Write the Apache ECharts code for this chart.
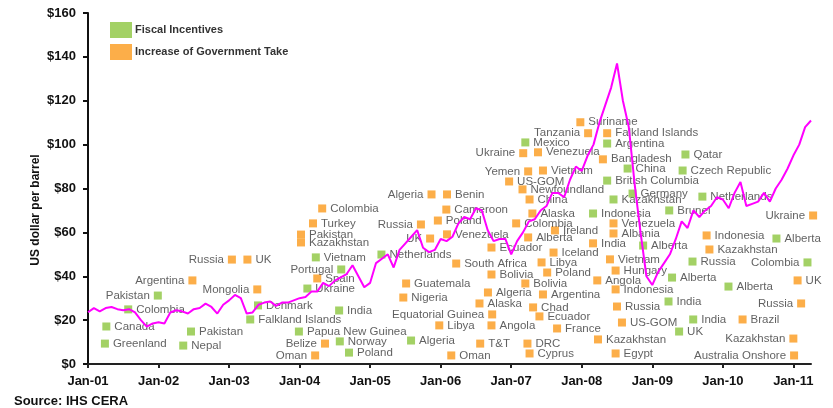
<!DOCTYPE html>
<html>
<head>
<meta charset="UTF-8">
<title>Oil price and fiscal changes</title>
<script src="https://cdn.jsdelivr.net/npm/echarts@6/dist/echarts.min.js"></script>
<style>
  html, body { margin: 0; padding: 0; background: #fff; }
  #main { width: 833px; height: 408px; }
</style>
</head>
<body>
<div id="main"></div>
<script type="text/javascript">
// oil price, US$/bbl, monthly from Jan-01
var priceStartYear = 2001;
var prices = [
  23.6, 25.5, 24, 25.5, 26, 25, 24.5, 25, 23.5, 20, 17, 18.5,
  19, 18.5, 23.5, 24.5, 24, 23, 25, 25.5, 27.5, 26, 23, 27,
  29, 31.5, 30, 23, 23.5, 27, 28, 28.5, 26.5, 28, 28, 29,
  30, 30.5, 33, 33, 37, 35.5, 38, 39.5, 41, 45, 40, 35,
  37, 46, 48, 50, 44, 52, 55, 58, 61, 53, 51, 52,
  57, 56, 58, 64, 67, 66, 71, 70, 61, 56, 57, 57,
  50, 56, 60, 65, 66, 70, 72, 78, 78, 76, 84, 90,
  88, 95, 100, 110, 118, 126, 137, 120, 108, 82, 60, 40,
  36, 42, 46, 50, 57, 65, 62, 70, 67, 70, 72, 76,
  75, 71, 78, 83, 72, 73, 74, 78, 74, 80, 84, 89,
  95, 100, 108, 111
];

// [date (decimal year), US$/bbl, country]
var fiscalIncentives = [
  [2001.26, 17.1, 'Canada'], [2001.24, 9.3, 'Greenland'], [2001.99, 31.2, 'Pakistan'],
  [2001.57, 24.9, 'Colombia'], [2002.46, 14.8, 'Pakistan'], [2002.35, 8.4, 'Nepal'],
  [2003.41, 26.7, 'Denmark'], [2003.30, 20.3, 'Falkland Islands'], [2003.99, 14.8, 'Papua New Guinea'],
  [2004.57, 10.3, 'Norway'], [2004.70, 5.2, 'Poland'], [2004.56, 24.4, 'India'],
  [2004.11, 34.4, 'Ukraine'], [2004.59, 43.1, 'Portugal'], [2004.23, 48.6, 'Vietnam'],
  [2005.16, 49.9, 'Netherlands'], [2005.58, 10.7, 'Algeria'], [2007.20, 101, 'Mexico'],
  [2008.16, 68.6, 'Indonesia'], [2008.36, 100.5, 'Argentina'], [2008.36, 83.6, 'British Columbia'],
  [2008.45, 75.0, 'Kazakhstan'], [2008.65, 89.1, 'China'], [2008.72, 77.7, 'Germany'],
  [2008.87, 54.0, 'Alberta'], [2009.24, 70.0, 'Brunei'], [2009.28, 39.4, 'Alberta'],
  [2009.23, 28.5, 'India'], [2009.38, 14.8, 'UK'], [2009.58, 20.3, 'India'],
  [2009.47, 95.5, 'Qatar'], [2009.43, 88.2, 'Czech Republic'], [2009.71, 76.3, 'Netherlands'],
  [2009.57, 46.7, 'Russia'], [2010.08, 35.3, 'Alberta'], [2010.76, 57.2, 'Alberta'],
  [2011.20, 46.3, 'Colombia']
];

var governmentTake = [
  [2002.48, 38.1, 'Argentina'], [2003.40, 34.0, 'Mongolia'], [2003.04, 47.6, 'Russia'],
  [2003.26, 47.6, 'UK'], [2004.22, 3.9, 'Oman'], [2004.36, 9.3, 'Belize'],
  [2004.25, 39.0, 'Spain'], [2004.02, 59.0, 'Pakistan'], [2004.02, 55.4, 'Kazakhstan'],
  [2004.19, 64.1, 'Turkey'], [2004.32, 70.9, 'Colombia'], [2005.72, 63.6, 'Russia'],
  [2005.85, 57.2, 'UK'], [2005.87, 77.3, 'Algeria'], [2006.09, 77.3, 'Benin'],
  [2006.08, 70.4, 'Cameroon'], [2005.96, 65.4, 'Poland'], [2006.09, 59.1, 'Venezuela'],
  [2005.51, 36.7, 'Guatemala'], [2005.47, 30.3, 'Nigeria'], [2005.98, 17.6, 'Libya'],
  [2006.15, 3.9, 'Oman'], [2006.56, 9.3, 'T&T'], [2006.55, 27.6, 'Alaska'],
  [2006.67, 32.6, 'Algeria'], [2006.72, 40.8, 'Bolivia'], [2006.72, 17.6, 'Angola'],
  [2006.73, 22.6, 'Equatorial Guinea'], [2006.22, 45.8, 'South Africa'], [2006.72, 53.1, 'Ecuador'],
  [2007.07, 64.1, 'Colombia'], [2007.30, 68.6, 'Alaska'], [2007.24, 57.7, 'Alberta'],
  [2007.62, 60.9, 'Ireland'], [2007.60, 50.8, 'Iceland'], [2007.43, 46.3, 'Libya'],
  [2007.51, 41.7, 'Poland'], [2007.20, 36.7, 'Bolivia'], [2007.45, 31.7, 'Argentina'],
  [2007.31, 25.8, 'Chad'], [2007.40, 21.7, 'Ecuador'], [2007.65, 16.2, 'France'],
  [2007.23, 9.3, 'DRC'], [2007.26, 4.8, 'Cyprus'], [2008.23, 11.2, 'Kazakhstan'],
  [2008.48, 4.8, 'Egypt'], [2008.57, 18.9, 'US-GOM'], [2008.50, 26.2, 'Russia'],
  [2008.48, 34.0, 'Indonesia'], [2008.22, 38.1, 'Angola'], [2008.48, 42.6, 'Hungary'],
  [2008.40, 47.7, 'Vietnam'], [2008.16, 55.0, 'India'], [2008.45, 59.5, 'Albania'],
  [2008.45, 64.1, 'Venezuela'], [2008.30, 93.3, 'Bangladesh'], [2008.36, 105.2, 'Falkland Islands'],
  [2008.09, 105.2, 'Tanzania'], [2007.98, 110.2, 'Suriname'], [2007.38, 96.5, 'Venezuela'],
  [2007.17, 96.1, 'Ukraine'], [2007.24, 87.8, 'Yemen'], [2007.45, 88.2, 'Vietnam'],
  [2006.97, 83.2, 'US-GOM'], [2007.16, 79.6, 'Newfoundland'], [2007.26, 75.0, 'China'],
  [2009.81, 52.2, 'Kazakhstan'], [2009.77, 58.6, 'Indonesia'], [2010.28, 20.3, 'Brazil'],
  [2011.06, 38.1, 'UK'], [2011.11, 27.6, 'Russia'], [2011.00, 11.6, 'Kazakhstan'],
  [2011.01, 3.9, 'Australia Onshore'], [2011.28, 67.7, 'Ukraine']
];

var yearTicks = [2001, 2002, 2003, 2004, 2005, 2006, 2007, 2008, 2009, 2010, 2011];

// which markers carry their label on the left side (indexes into the arrays above)
var fiscalLeft = [2, 13, 36];
var takeLeft = [0, 1, 2, 4, 5, 11, 12, 13, 27, 57, 60, 61, 70, 71, 72, 73];

var GREEN = '#8cc63f', ORANGE = '#fb9a1c';
var FONT = 'Liberation Sans, Arial, sans-serif';

function toPoints(list, leftIdx) {
  return list.map(function (p, i) {
    return {
      name: p[2],
      value: [p[0], p[1]],
      label: { position: leftIdx.indexOf(i) >= 0 ? 'left' : 'right' }
    };
  });
}

var priceData = prices.map(function (v, i) {
  return [priceStartYear + i / 12, v];
});

var labelStyle = {
  show: true,
  formatter: '{b}',
  distance: 4,
  color: '#3a3a3a',
  fontFamily: FONT,
  fontSize: 11.5
};

var myChart = echarts.init(document.getElementById('main'), null, { renderer: 'canvas' });

var option = {
  animation: false,
  backgroundColor: '#fff',
  grid: { left: 88, right: 22, top: 13, bottom: 44 },
  legend: {
    data: ['Fiscal Incentives', 'Increase of Government Take'],
    orient: 'vertical',
    left: 105,
    top: 17,
    itemWidth: 22,
    itemHeight: 16,
    itemGap: 6,
    icon: 'rect',
    textStyle: { fontFamily: FONT, fontSize: 11, fontWeight: 'bold', color: '#333', padding: [0, 0, 0, -2] }
  },
  xAxis: {
    type: 'value',
    min: 2001,
    max: 2011.25,
    interval: 1,
    splitLine: { show: false },
    axisLine: { lineStyle: { color: '#222', width: 2 } },
    axisTick: { length: 4, lineStyle: { color: '#222', width: 2 }, customValues: yearTicks },
    axisLabel: {
      customValues: yearTicks,
      margin: 11,
      color: '#111',
      fontFamily: FONT,
      fontSize: 13,
      fontWeight: 'bold',
      formatter: function (v) { return 'Jan-' + String(Math.round(v) % 100).padStart(2, '0'); }
    }
  },
  yAxis: {
    type: 'value',
    min: 0,
    max: 160,
    interval: 20,
    splitLine: { show: false },
    axisLine: { show: true, lineStyle: { color: '#111', width: 2 } },
    axisTick: { show: true, length: 5, lineStyle: { color: '#111', width: 2 } },
    axisLabel: {
      margin: 12,
      color: '#111',
      fontFamily: FONT,
      fontSize: 13,
      fontWeight: 'bold',
      formatter: function (v) { return '$' + v; }
    }
  },
  graphic: [
    {
      type: 'text', x: 36, y: 210, rotation: Math.PI / 2,
      style: { text: 'US dollar per barrel', fill: '#111', font: 'bold 12px ' + FONT, align: 'center', verticalAlign: 'middle' }
    },
    {
      type: 'text', left: 14, top: 395,
      style: { text: 'Source: IHS CERA', fill: '#111', font: 'bold 13px ' + FONT }
    }
  ],
  series: [
    {
      name: 'Fiscal Incentives',
      type: 'scatter',
      symbol: 'rect',
      symbolSize: 8,
      clip: false,
      itemStyle: { color: GREEN },
      label: labelStyle,
      data: toPoints(fiscalIncentives, fiscalLeft),
      z: 2
    },
    {
      name: 'Increase of Government Take',
      type: 'scatter',
      symbol: 'rect',
      symbolSize: 8,
      clip: false,
      itemStyle: { color: ORANGE },
      label: labelStyle,
      data: toPoints(governmentTake, takeLeft),
      z: 2
    },
    {
      name: 'Oil price',
      type: 'line',
      showSymbol: false,
      clip: false,
      lineStyle: { color: '#ff00ff', width: 2 },
      itemStyle: { color: '#ff00ff' },
      data: priceData,
      z: 5
    }
  ]
};

myChart.setOption(option);
</script>
</body>
</html>
